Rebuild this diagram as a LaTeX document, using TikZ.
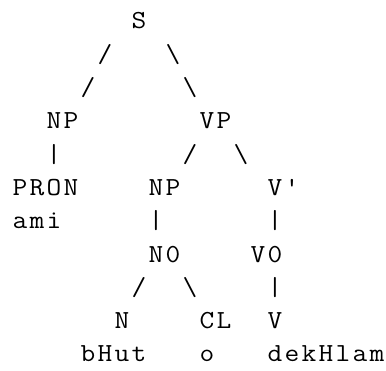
\documentclass[tikz,border=0pt]{standalone}
\usepackage{graphicx}
\newcommand{\mcells}[1]{\mcellsA#1\relax}
\def\mcellsA#1{\ifx#1\relax\else\makebox[17pt][c]{\scalebox{1.1}[1]{#1}}\expandafter\mcellsA\fi}
\tikzset{
  asc/.style={anchor=base west, inner sep=0pt, outer sep=0pt, text=black,
    font=\ttfamily\fontsize{26}{26}\selectfont}
}
\begin{document}
\begin{tikzpicture}[x=1pt,y=-1pt]
\fill[white] (0,0) rectangle (386,371);
\useasboundingbox (0,0) rectangle (386,371);
% row 1
\node[asc] (S) at (130.5,29) {\mcells{S}};
% row 2
\node[asc] (s2a) at (96.5,62.3) {\mcells{/}};
\node[asc] (s2b) at (164.5,62.3) {\mcells{\textbackslash}};
% row 3
\node[asc] (s3a) at (79.5,95.6) {\mcells{/}};
\node[asc] (s3b) at (181.5,95.6) {\mcells{\textbackslash}};
% row 4
\node[asc] (NP1) at (45.5,128.9) {\mcells{NP}};
\node[asc] (VP) at (198.5,128.9) {\mcells{VP}};
% row 5
\node[asc] (b5a) at (45.5,162.2) {\mcells{|}};
\node[asc] (s5a) at (181.5,162.2) {\mcells{/}};
\node[asc] (s5b) at (232.5,162.2) {\mcells{\textbackslash}};
% row 6
\node[asc] (PRON) at (11.5,195.5) {\mcells{PRON}};
\node[asc] (NP2) at (147.5,195.5) {\mcells{NP}};
\node[asc] (Vbar) at (266.5,195.5) {\mcells{V\textquotesingle}};
% row 7
\node[asc] (ami) at (11.5,228.8) {\mcells{ami}};
\node[asc] (b7a) at (147.5,228.8) {\mcells{|}};
\node[asc] (b7b) at (266.5,228.8) {\mcells{|}};
% row 8
\node[asc] (N0) at (147.5,262.1) {\mcells{N0}};
\node[asc] (V0) at (249.5,262.1) {\mcells{V0}};
% row 9
\node[asc] (s9a) at (130.5,295.4) {\mcells{/}};
\node[asc] (s9b) at (181.5,295.4) {\mcells{\textbackslash}};
\node[asc] (b9a) at (266.5,295.4) {\mcells{|}};
% row 10
\node[asc] (N) at (113.5,328.7) {\mcells{N}};
\node[asc] (CL) at (198.5,328.7) {\mcells{CL}};
\node[asc] (V) at (266.5,328.7) {\mcells{V}};
% row 11
\node[asc] (bHut) at (79.5,362) {\mcells{bHut}};
\node[asc] (o) at (198.5,362) {\mcells{o}};
\node[asc] (dekHlam) at (266.5,362) {\mcells{dekHlam}};
\end{tikzpicture}
\end{document}
